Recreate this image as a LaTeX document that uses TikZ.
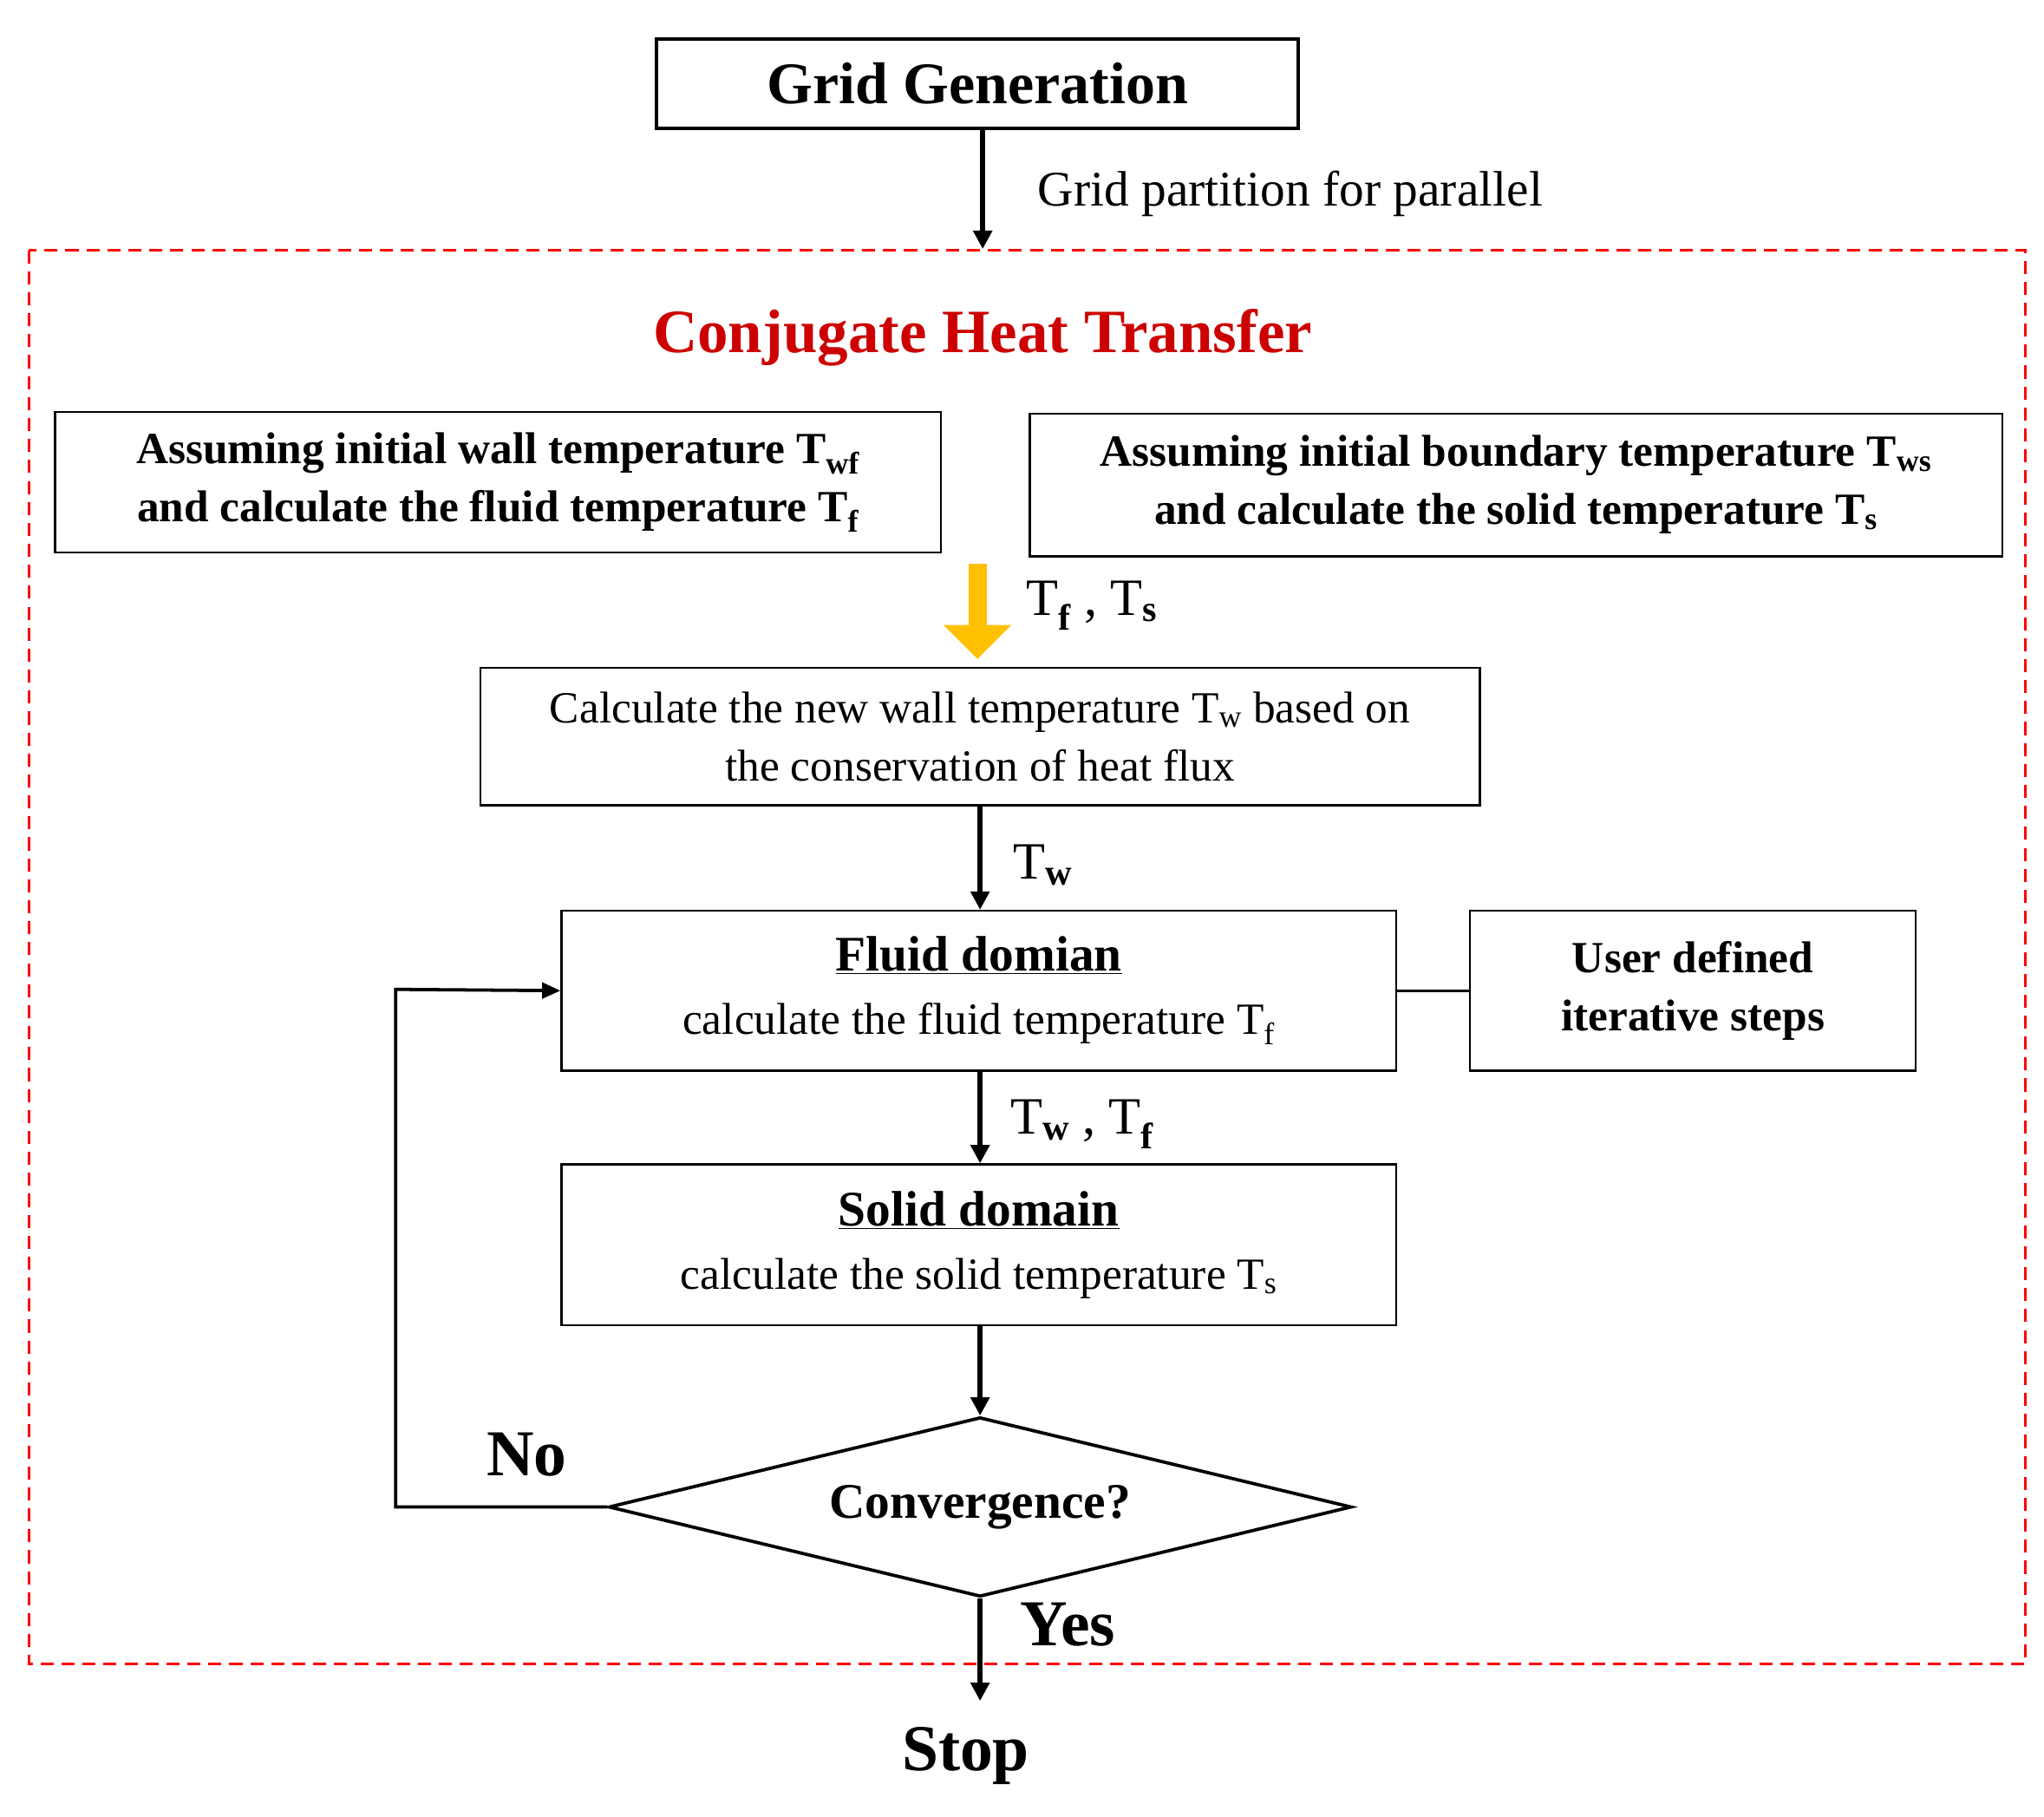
\documentclass[tikz,border=0pt]{standalone}
\usepackage{fontspec}
\setmainfont{Liberation Serif}
\usetikzlibrary{arrows.meta,shapes.geometric}
\newcommand{\fs}[1]{\fontsize{#1bp}{\dimexpr #1bp*13/10\relax}\selectfont}
\begin{document}
\begin{tikzpicture}[x=1bp,y=-1bp,
  box/.style={draw,line width=1.5bp,inner sep=0pt,align=center},
  arr/.style={line width=4bp,-{Triangle[length=14bp,width=14bp]}},
  lbl/.style={anchor=west,inner sep=0pt}]
\useasboundingbox (0,0) rectangle (1560,1386);
\node[box,line width=2.5bp,minimum width=490bp,minimum height=68bp,font=\fs{45}\bfseries] (grid) at (746,64) {Grid Generation};
\coordinate (dtop) at (750,190);
\draw[arr] (grid.south -| dtop) -- (dtop);
\node[lbl,font=\fs{38}] (gp) at (792,148) {Grid partition for parallel};
\draw[red,line width=2bp,dash pattern=on 10bp off 6bp] (22,191) rectangle (1546,1270);
\node[red!80!black,font=\fs{47}\bfseries] (cht) at (750,258) {Conjugate Heat Transfer};
\node[box,minimum width=676bp,minimum height=107bp,font=\fs{34}\bfseries] (lb) at (380,368)
 {Assuming initial wall temperature T\textsubscript{wf}\\and calculate the fluid temperature T\textsubscript{f}};
\node[box,minimum width=742bp,minimum height=109bp,font=\fs{34}\bfseries] (rb) at (1157,370)
 {Assuming initial boundary temperature T\textsubscript{ws}\\and calculate the solid temperature T\textsubscript{s}};
\coordinate (ya) at (746,430);
\coordinate (yb) at (746,503);
\draw[line width=14bp,draw={rgb,255:red,255;green,192;blue,0},-{Triangle[length=26bp,width=50bp]}] (ya) -- (yb);
\node[lbl,font=\fs{40}] (tfts) at (783,462) {T\textsubscript{\textbf{f}} , T\textsubscript{\textbf{s}}};
\node[box,minimum width=763bp,minimum height=105bp,font=\fs{34}] (calc) at (748,562)
 {Calculate the new wall temperature T\textsubscript{w} based on\\the conservation of heat flux};
\node[box,minimum width=637bp,minimum height=122bp,font=\fs{34}] (fluid) at (747,756)
 {\fs{38}\bfseries\underline{Fluid domian}\\[4bp]calculate the fluid temperature T\textsubscript{f}};
\node[box,minimum width=340bp,minimum height=122bp,font=\fs{34}\bfseries] (user) at (1292,756)
 {User defined\\iterative steps};
\draw[line width=2bp] (fluid.east) -- (user.west);
\draw[arr] (calc.south -| 748,0) -- (fluid.north -| 748,0);
\node[lbl,font=\fs{40}] (tw) at (773,660) {T\textsubscript{\textbf{w}}};
\node[box,minimum width=637bp,minimum height=123bp,font=\fs{34}] (solid) at (747,950)
 {\fs{38}\bfseries\underline{Solid domain}\\[4bp]calculate the solid temperature T\textsubscript{s}};
\draw[arr] (fluid.south -| 748,0) -- (solid.north -| 748,0);
\node[lbl,font=\fs{40}] (twtf) at (771,858) {T\textsubscript{\textbf{w}} , T\textsubscript{\textbf{f}}};
\node[draw,line width=2.5bp,diamond,aspect=4.1,minimum width=567bp,minimum height=137bp,inner sep=0pt,font=\fs{38}\bfseries] (conv) at (748,1150) {Convergence?};
\draw[arr] (solid.south -| 748,0) -- (conv.north);
\coordinate (c1) at (302,1150);
\coordinate (c2) at (302,755);
\draw[line width=2.5bp,-{Triangle[length=14bp,width=12bp]}] (conv.west) -- (c1) -- (c2) -- (fluid.west);
\node[font=\fs{50}\bfseries] (no) at (402,1110) {No};
\node[font=\fs{50}\bfseries] (stop) at (737,1340) {Stop};
\coordinate (send) at (748,1298);
\draw[arr] (conv.south) -- (send);
\node[font=\fs{50}\bfseries] (yes) at (815,1240) {Yes};
\end{tikzpicture}
\end{document}
